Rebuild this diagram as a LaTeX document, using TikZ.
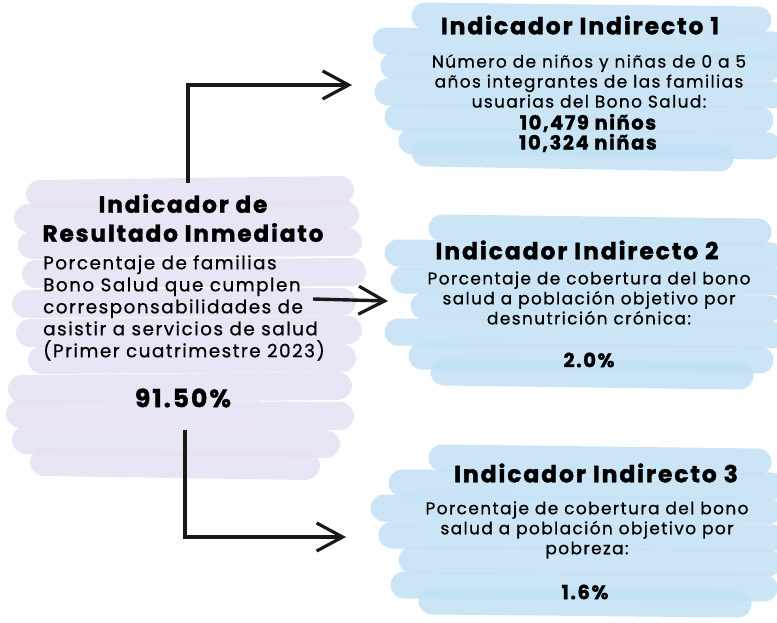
\documentclass[tikz,border=0pt]{standalone}
\usepackage{fontspec}
\setmainfont{Poppins}[LetterSpace=8, FakeBold=0.6]
\newfontfamily\headfont{Poppins}[LetterSpace=8, BoldFeatures={FakeBold=1.5}]
\usetikzlibrary{arrows.meta}
\definecolor{lav}{RGB}{230,224,242}
\definecolor{sky}{RGB}{194,225,246}
\tikzset{
  brushL/.style={line width=28pt, line cap=round, draw=lav, opacity=0.85},
  brushB/.style={line width=27pt, line cap=round, draw=sky, opacity=0.85},
  head/.style={font=\headfont\bfseries\fontsize{23.5}{29}\selectfont, align=center, inner sep=0pt},
  body/.style={font=\fontsize{17}{20}\selectfont, align=center, inner sep=0pt},
  lbody/.style={font=\fontsize{18.4}{22}\selectfont, align=left, inner sep=0pt},
  val/.style={font=\headfont\bfseries\fontsize{19.5}{20}\selectfont, align=center, inner sep=0pt},
  conn/.style={line width=3.4pt, draw=black!90, -{Straight Barb[length=26pt,width=28pt,line width=3.2pt]}}
}
\begin{document}
\begin{tikzpicture}[x=1pt,y=-1pt]
\useasboundingbox (0,0) rectangle (777,623);
% left lavender brush strokes
\draw[brushL] (40,194) -- (340,190);
\draw[brushL] (28,218) -- (345,215);
\draw[brushL] (32,245) -- (348,242);
\draw[brushL] (36,274) -- (352,272);
\draw[brushL] (26,304) -- (342,302);
\draw[brushL] (30,333) -- (348,330);
\draw[brushL] (42,360) -- (342,358);
\draw[brushL] (22,389) -- (338,386);
\draw[brushL] (20,414) -- (340,416);
\draw[brushL] (26,440) -- (326,444);
\draw[brushL] (44,462) -- (306,466);
% blue box 1
\draw[brushB] (425,16) -- (758,20);
\draw[brushB] (386,41) -- (772,45);
\draw[brushB] (394,66) -- (768,68);
\draw[brushB] (388,92) -- (772,95);
\draw[brushB] (398,117) -- (760,120);
\draw[brushB] (412,141) -- (768,146);
\draw[brushB] (425,153) -- (720,158);
% blue box 2
\draw[brushB] (442,228) -- (758,232);
\draw[brushB] (398,253) -- (770,256);
\draw[brushB] (404,280) -- (774,282);
\draw[brushB] (424,306) -- (768,309);
\draw[brushB] (398,332) -- (772,335);
\draw[brushB] (422,356) -- (760,360);
\draw[brushB] (444,372) -- (740,376);
% blue box 3
\draw[brushB] (442,458) -- (758,462);
\draw[brushB] (402,483) -- (772,486);
\draw[brushB] (384,508) -- (768,511);
\draw[brushB] (392,535) -- (772,538);
\draw[brushB] (412,560) -- (768,563);
\draw[brushB] (404,585) -- (764,588);
\draw[brushB] (432,601) -- (738,604);
% left box texts
\node[head, font=\headfont\bfseries\fontsize{23.2}{29}\selectfont] (lhead) at (183,218) {Indicador de\\Resultado Inmediato};
\node[lbody, anchor=west] (lbody) at (43,308) {Porcentaje de familias\\Bono Salud que cumplen\\corresponsabilidades de\\asistir a servicios de salud\\(Primer cuatrimestre 2023)};
\node[val, font=\headfont\bfseries\fontsize{25}{26}\selectfont] (lval) at (183,398) {91.50\%};
% right box 1
\node[head] (h1) at (580,25) {Indicador Indirecto 1};
\node[body] (b1) at (589,81) {Número de niños y niñas de 0 a 5\\años integrantes de las familias\\usuarias del Bono Salud:};
\node[val] (v1) at (588,133) {10,479 niños\\10,324 niñas};
% right box 2
\node[head] (h2) at (577,250) {Indicador Indirecto 2};
\node[body] (b2) at (589,298) {Porcentaje de cobertura del bono\\salud a población objetivo por\\desnutrición crónica:};
\node[val] (v2) at (589,360) {2.0\%};
% right box 3
\node[head] (h3) at (596,473) {Indicador Indirecto 3};
\node[body] (b3) at (587,530) {Porcentaje de cobertura del bono\\salud a población objetivo por\\pobreza:};
\node[val] (v3) at (585,592) {1.6\%};
% connectors
\coordinate (s1) at (188,183);
\coordinate (t1) at (352,85);
\coordinate (s2) at (313,299);
\coordinate (t2) at (388,301);
\coordinate (s3) at (185,430);
\coordinate (t3) at (346,537);
\draw[conn] (s1) |- (t1);
\draw[conn] (s2) -- (t2);
\draw[conn] (s3) |- (t3);
\end{tikzpicture}
\end{document}
